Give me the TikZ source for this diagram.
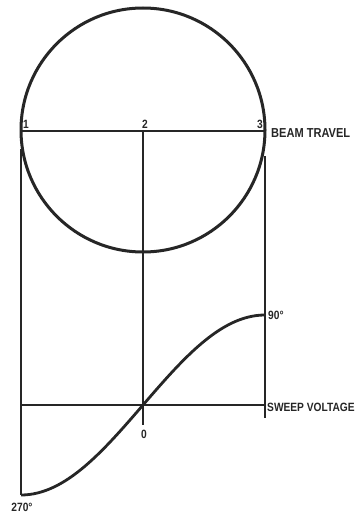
\documentclass[tikz,border=0pt]{standalone}
\usepackage{fontspec}
\setmainfont{Liberation Sans}[FakeStretch=0.85]
\usetikzlibrary{positioning}

\begin{document}
\begin{tikzpicture}[x=1pt, y=-1pt,
  heavy/.style={line width=3pt, black!85},
  thin/.style={line width=1.4pt, black!85},
  lbl/.style={font=\fontsize{13}{13}\selectfont\bfseries, inner sep=1pt, text=black!85},
  num/.style={font=\fontsize{12}{12}\selectfont\bfseries, inner sep=1pt, text=black!85},
]
  \useasboundingbox (0,0) rectangle (359,514);

  \coordinate (ctr) at (143,130);
  \coordinate (p1) at (21,131);
  \coordinate (p2) at (143,131);
  \coordinate (p3) at (265,131);
  \coordinate (l1) at (21,149);
  \coordinate (l2) at (21,495);
  \coordinate (m2) at (143,425);
  \coordinate (r1) at (265,156);
  \coordinate (r2) at (265,418);
  \coordinate (s1) at (21,405);
  \coordinate (s2) at (265,405);
  \coordinate (top) at (265,315);

  \draw[heavy] (ctr) circle[radius=122];
  \draw[thin] (p1) -- (p3);
  \draw[thin] (p2) -- (m2);
  \draw[thin] (l1) -- (l2);
  \draw[thin] (r1) -- (r2);
  \draw[thin] (s1) -- (s2);
  \draw[heavy, line width=2.8pt] plot[domain=-1:1, samples=60, smooth]
    ({143+122*\x},{405-90*sin(90*\x)});

  \node[num, anchor=south west] (n1) at (22,130) {1};
  \node[num, anchor=south] (n2) at (145,130) {2};
  \node[num, anchor=south east] (n3) at (264,130) {3};
  \node[lbl, anchor=west] (beam) at (270,133) {BEAM TRAVEL};
  \node[num, anchor=west] (sweep) at (266,407) {SWEEP VOLTAGE};
  \node[num, anchor=west] (d90) at (267,315) {90\textdegree};
  \node[num] (d0) at (144,434) {0};
  \node[num] (d270) at (22,507) {270\textdegree};
\end{tikzpicture}
\end{document}
